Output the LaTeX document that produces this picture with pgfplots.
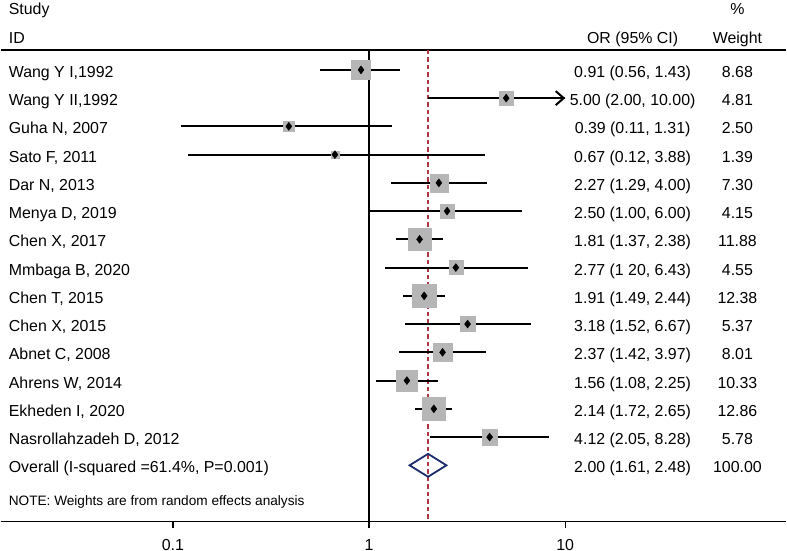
\documentclass[border=0pt]{standalone}
\usepackage{fontspec}
\setmainfont{Liberation Sans}
\usepackage{pgfplots}
\pgfplotsset{compat=1.18}
\usepackage{pgfplotstable}
\usetikzlibrary{arrows.meta}
\definecolor{boxgray}{RGB}{182,182,182}
\definecolor{navyd}{RGB}{28,45,110}
\definecolor{refred}{RGB}{175,55,65}

\pgfplotstableread{
row or lo hi w
1 0.91 0.56 1.43 8.68
2 5.00 2.00 10.00 4.81
3 0.39 0.11 1.31 2.50
4 0.67 0.12 3.88 1.39
5 2.27 1.29 4.00 7.30
6 2.50 1.00 6.00 4.15
7 1.81 1.37 2.38 11.88
8 2.77 1.20 6.43 4.55
9 1.91 1.49 2.44 12.38
10 3.18 1.52 6.67 5.37
11 2.37 1.42 3.97 8.01
12 1.56 1.08 2.25 10.33
13 2.14 1.72 2.65 12.86
14 4.12 2.05 8.28 5.78
}\studies

\newcommand{\tf}{\fontsize{16}{19}\selectfont}
\newcommand{\xL}{0.01455}
\newcommand{\xOR}{22.06}
\newcommand{\xW}{75.5}
\newcommand{\rowtext}[4]{%
  \node[anchor=base west, inner sep=0pt, yshift=-7.5bp, font=\tf] at (axis cs:\xL,#1) {#2};
  \node[anchor=base, inner sep=0pt, yshift=-7.5bp, font=\tf] at (axis cs:\xOR,#1) {#3};
  \node[anchor=base, inner sep=0pt, yshift=-7.5bp, font=\tf] at (axis cs:\xW,#1) {#4};
}

\begin{document}
\begin{tikzpicture}
\begin{axis}[
  scale only axis,
  width=787bp, height=522bp,
  xmode=log,
  xmin=0.013245, xmax=134.06,
  ymin=-1.474, ymax=16.977,
  y dir=reverse,
  axis x line=bottom,
  axis y line=none,
  axis line style={-, black, line width=1.3bp},
  xtick={0.1,1,10},
  xticklabels={0.1,1,10},
  xminorticks=false,
  minor x tick num=0,
  ytick=\empty,
  tick align=outside,
  major tick length=7bp,
  tick style={black, line width=1.3bp},
  xticklabel style={anchor=base, inner sep=0pt, font=\tf, yshift=-22.5bp},
  /pgf/number format/assume math mode=true,
  clip=false,
]
\path (rel axis cs:0,0) rectangle (rel axis cs:1,1);
\path (rel axis cs:0,1) -- ++(0,-32bp);

% boxes
\addplot[scatter, only marks, mark=square*,
  scatter/use mapped color={draw=boxgray, fill=boxgray},
  visualization depends on={3.3*sqrt(\thisrow{w}) \as \msize},
  scatter/@pre marker code/.append style={/tikz/mark size=\msize}]
  table[x=or, y=row] \studies;

% header line
\addplot[black, line width=1.3bp, mark=none] coordinates {(0.013245,0.293) (134.06,0.293)};
% line of no effect
\addplot[black, line width=1.3bp, mark=none] coordinates {(1,0.293) (1,16.977)};
% overall effect line
\addplot[refred, line width=1.3bp, mark=none, dash pattern=on 4.5bp off 3bp] coordinates {(2.00,0.293) (2.00,16.977)};

% confidence intervals
\addplot[only marks, mark=none,
  error bars/.cd, x dir=both, x explicit, error mark=none,
  error bar style={black, line width=2bp, solid}]
  table[x=or, y=row, x error plus expr=\thisrow{hi}-\thisrow{or}, x error minus expr=\thisrow{or}-\thisrow{lo}] \studies;

% arrow for truncated CI
\addplot[black, line width=2bp, mark=none, -{Straight Barb[length=8bp,width=14bp]}] coordinates {(2.00,2) (10.00,2)};

% point estimates
\addplot[only marks, mark=diamond*, mark size=4bp, black] table[x=or, y=row] \studies;

% overall diamond
\addplot[navyd, line width=1.8bp, line join=miter, mark=none] coordinates {(1.61,15) (2.00,14.594) (2.48,15) (2.00,15.406) (1.61,15) (2.00,14.594)};

% headers
\node[anchor=base west, inner sep=0pt, font=\tf] at (axis cs:\xL,-0.944) {Study};
\node[anchor=base west, inner sep=0pt, font=\tf] at (axis cs:\xL,0.056) {ID};
\node[anchor=base, inner sep=0pt, font=\tf] at (axis cs:\xW,-0.944) {\%};
\node[anchor=base, inner sep=0pt, font=\tf] at (axis cs:\xOR,0.056) {OR (95\% CI)};
\node[anchor=base, inner sep=0pt, font=\tf] at (axis cs:\xW,0.056) {Weight};

\rowtext{1}{Wang Y I,1992}{0.91 (0.56, 1.43)}{8.68}
\rowtext{2}{Wang Y II,1992}{5.00 (2.00, 10.00)}{4.81}
\rowtext{3}{Guha N, 2007}{0.39 (0.11, 1.31)}{2.50}
\rowtext{4}{Sato F, 2011}{0.67 (0.12, 3.88)}{1.39}
\rowtext{5}{Dar N, 2013}{2.27 (1.29, 4.00)}{7.30}
\rowtext{6}{Menya D, 2019}{2.50 (1.00, 6.00)}{4.15}
\rowtext{7}{Chen X, 2017}{1.81 (1.37, 2.38)}{11.88}
\rowtext{8}{Mmbaga B, 2020}{2.77 (1 20, 6.43)}{4.55}
\rowtext{9}{Chen T, 2015}{1.91 (1.49, 2.44)}{12.38}
\rowtext{10}{Chen X, 2015}{3.18 (1.52, 6.67)}{5.37}
\rowtext{11}{Abnet C, 2008}{2.37 (1.42, 3.97)}{8.01}
\rowtext{12}{Ahrens W, 2014}{1.56 (1.08, 2.25)}{10.33}
\rowtext{13}{Ekheden I, 2020}{2.14 (1.72, 2.65)}{12.86}
\rowtext{14}{Nasrollahzadeh D, 2012}{4.12 (2.05, 8.28)}{5.78}
\rowtext{15}{Overall (I-squared =61.4\%, P=0.001)}{2.00 (1.61, 2.48)}{100.00}

\node[anchor=base west, inner sep=0pt, font=\fontsize{13.7}{16}\selectfont] at (axis cs:\xL,16.41) {NOTE: Weights are from random effects analysis};
\end{axis}
\end{tikzpicture}
\end{document}
